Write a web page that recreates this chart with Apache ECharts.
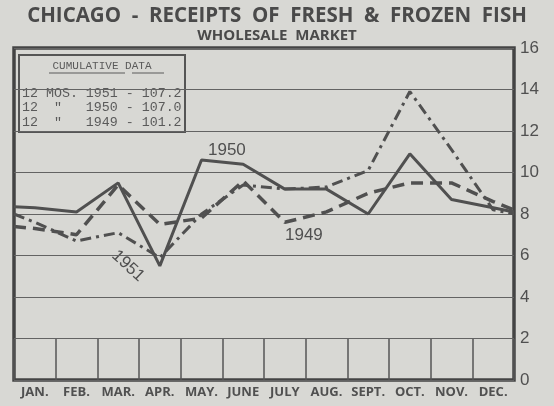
<!DOCTYPE html>
<html>
<head>
<meta charset="utf-8">
<script src="https://cdn.jsdelivr.net/npm/echarts@6/dist/echarts.min.js"></script>
<style>
  html, body { margin: 0; padding: 0; background: #d8d8d4; }
  #chart { width: 554px; height: 406px; }
</style>
</head>
<body>
<div id="chart"></div>
<script>
var months = ['JAN.', 'FEB.', 'MAR.', 'APR.', 'MAY.', 'JUNE', 'JULY', 'AUG.', 'SEPT.', 'OCT.', 'NOV.', 'DEC.'];
var y1951 = [7.6, 6.7, 7.1, 5.9, 8.0, 9.4, 9.2, 9.3, 10.1, 13.9, 11.1, 8.2];
var y1950 = [8.3, 8.1, 9.5, 5.5, 10.6, 10.4, 9.2, 9.2, 8.0, 10.9, 8.7, 8.3];
var y1949 = [7.3, 7.0, 9.4, 7.5, 7.8, 9.6, 7.6, 8.1, 9.0, 9.5, 9.5, 8.6];
// where each line meets the left / right frame
var edge1951 = [8.0, 8.0];
var edge1950 = [8.35, 8.1];
var edge1949 = [7.4, 8.2];
var cumYears = ['1951', '1950', '1949'];
var cumTotals = ['107.2', '107.0', '101.2'];
var cumHeads = ['12 MOS. ', '12  "   ', '12  "   '];

var bg = '#d8d8d4', ink = '#505050';

function lineData(vals, edge) {
    var d = [[-0.5, edge[0]]];
    for (var i = 0; i < vals.length; i++) d.push([i, vals[i]]);
    d.push([vals.length - 0.5, edge[1]]);
    return d;
}

var legendText = [];
for (var i = 0; i < cumYears.length; i++) {
    legendText.push(cumHeads[i] + cumYears[i] + ' - ' + cumTotals[i]);
}

var chart = echarts.init(document.getElementById('chart'));
chart.setOption({
    backgroundColor: bg,
    animation: false,
    title: {
        text: 'CHICAGO  -  RECEIPTS  OF  FRESH  &  FROZEN  FISH',
        subtext: 'WHOLESALE  MARKET',
        left: 'center',
        top: 1,
        itemGap: 1,
        textStyle: { fontFamily: 'Open Sans', fontWeight: 'bold', fontSize: 20.5, color: '#4a4a4a' },
        subtextStyle: { fontFamily: 'Open Sans', fontWeight: 'bold', fontSize: 15, color: '#4a4a4a' }
    },
    grid: {
        left: 14, right: 40, top: 48, bottom: 26,
        show: true, borderColor: '#444', borderWidth: 3.5
    },
    xAxis: [{
        type: 'category',
        data: months,
        boundaryGap: true,
        axisLine: { show: false },
        axisTick: { show: true, interval: 0, inside: true, length: 41, lineStyle: { color: '#555', width: 1.5 } },
        axisLabel: { interval: 0, hideOverlap: false, fontFamily: 'Open Sans', fontWeight: 'bold', fontSize: 13, color: '#505050', margin: 6 },
        splitLine: { show: false }
    }, {
        type: 'value',
        min: -0.5,
        max: 11.5,
        show: false
    }],
    yAxis: {
        type: 'value',
        position: 'right',
        min: 0,
        max: 16,
        interval: 2,
        axisLine: { show: false },
        axisTick: { show: false },
        axisLabel: { fontFamily: 'Liberation Sans', fontSize: 17, color: '#505050', margin: 6 },
        splitLine: { lineStyle: { color: '#636363', width: 1.2 } }
    },
    graphic: [
        { type: 'rect', shape: { x: 19, y: 55, width: 166, height: 77 },
          style: { fill: bg, stroke: '#555', lineWidth: 2 } },
        { type: 'text', x: 102, y: 66,
          style: { text: 'CUMULATIVE DATA', font: '11px "Liberation Mono"', fill: '#5a5a5a', align: 'center', verticalAlign: 'middle' } },
        { type: 'line', shape: { x1: 49, y1: 73, x2: 125, y2: 73 }, style: { stroke: '#5a5a5a', lineWidth: 1 } },
        { type: 'line', shape: { x1: 132, y1: 73, x2: 164, y2: 73 }, style: { stroke: '#5a5a5a', lineWidth: 1 } },
        { type: 'text', x: 22, y: 86,
          style: { text: legendText.join('\n'), font: '13.3px "Liberation Mono"', lineHeight: 14.5, fill: '#5a5a5a' } },
        { type: 'text', x: 208, y: 142,
          style: { text: '1950', font: '17px "Liberation Sans"', fill: ink } },
        { type: 'text', x: 285, y: 227,
          style: { text: '1949', font: '17px "Liberation Sans"', fill: ink } },
        { type: 'text', x: 128, y: 266, rotation: -0.75,
          style: { text: '1951', font: '17px "Liberation Sans"', fill: ink, align: 'center', verticalAlign: 'middle' } }
    ],
    series: [{
        name: '1951', type: 'line', xAxisIndex: 1, symbol: 'none',
        data: lineData(y1951, edge1951),
        lineStyle: { color: ink, width: 3, type: [11, 5, 3, 5] }
    }, {
        name: '1950', type: 'line', xAxisIndex: 1, symbol: 'none',
        data: lineData(y1950, edge1950),
        lineStyle: { color: ink, width: 3 }
    }, {
        name: '1949', type: 'line', xAxisIndex: 1, symbol: 'none',
        data: lineData(y1949, edge1949),
        lineStyle: { color: ink, width: 3.5, type: [12, 7] }
    }]
});
</script>
</body>
</html>
